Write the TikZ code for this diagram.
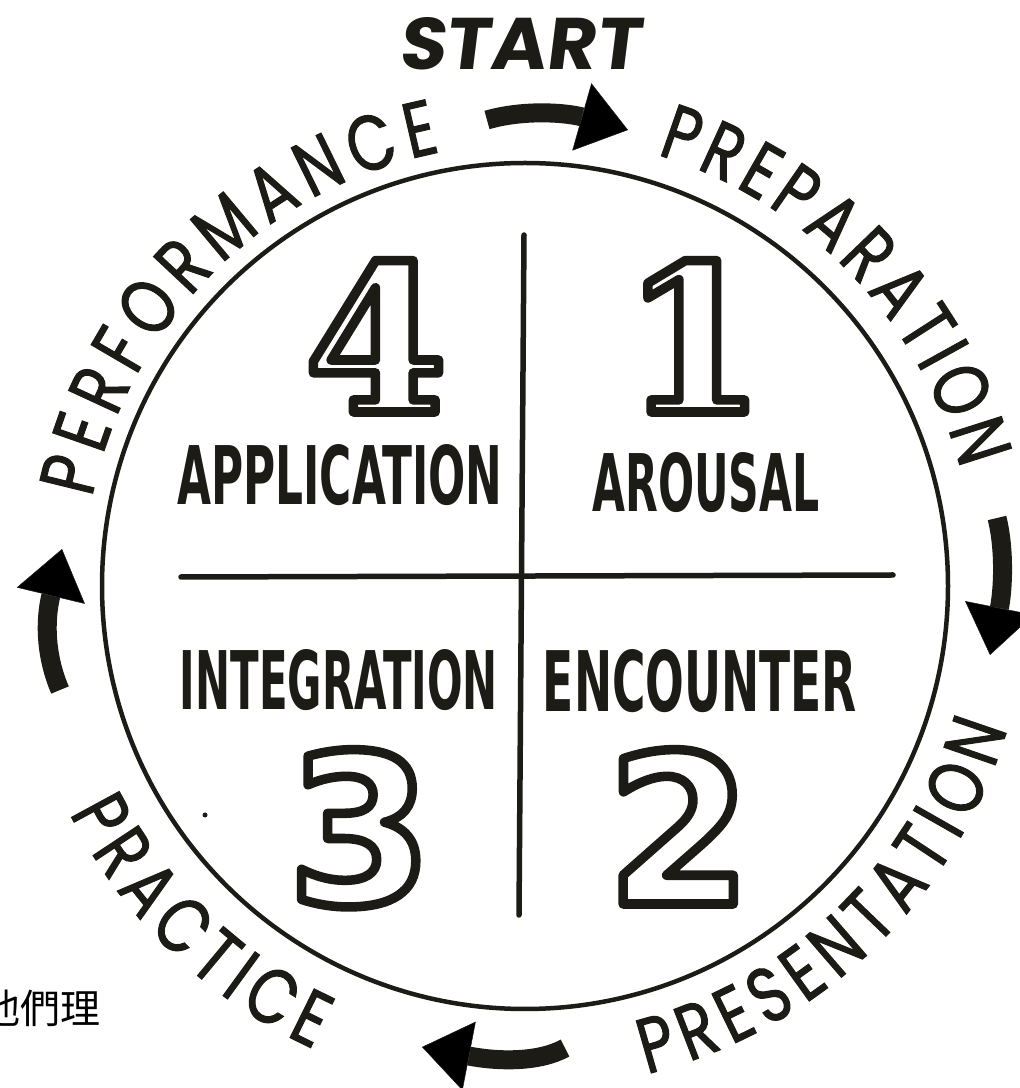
\documentclass[tikz,border=0pt]{standalone}
\usepackage{fontspec}
\usepackage{graphicx}
\usetikzlibrary{arrows.meta,decorations.text}
\newfontfamily\outerfam{Poppins}[FakeStretch=0.78,FakeBold=1.3]
\newfontfamily\startfam{Poppins}[FakeSlant=0.12]
\newfontfamily\labfam{DejaVu Sans Condensed}
\newfontfamily\serifnum{DejaVu Serif}
\newfontfamily\sansnum{DejaVu Sans}
\newfontfamily\cjkfont{Noto Sans CJK TC}
\definecolor{ink}{RGB}{28,27,22}
\newcommand\outerfont{\outerfam\fontsize{78pt}{78pt}\selectfont}
% outlined glyphs: white fill, ink stroke (PDF text render mode 2)
\newcommand\outl[2]{{\color{white}\special{pdf:literal direct 0.110 0.106 0.086 RG #1 w 1 j 2 Tr}#2\special{pdf:literal direct 0 Tr}}}
\tikzset{
  inkline/.style={draw=ink, line width=4.5pt, line cap=round},
  crossline/.style={draw=ink, line width=5.5pt, line cap=round},
  fatarrow/.style={draw=ink, line width=19pt, -{Triangle[length=48pt,width=70pt,line width=0.5pt]}},
  numnode/.style={inner sep=0pt, anchor=base, text=ink},
  labnode/.style={inner sep=0pt, anchor=base, text=ink},
  arctext/.style={decorate, decoration={text along path, text align=fit to path, text color=ink}},
}
\begin{document}
\begin{tikzpicture}[x=1pt,y=1pt]
\useasboundingbox (0,0) rectangle (1020,1088);
\clip (0,0) rectangle (1020,1088);
\fill[white] (0,0) rectangle (1020,1088);
\coordinate (c) at (525,502);
% circle and cross
\draw[inkline] (c) circle[radius=423];
\coordinate (vt) at (524,853);
\coordinate (vb) at (519,173);
\coordinate (hl) at (181,511);
\coordinate (hr) at (893,513);
\draw[crossline] (vt) -- (vb);
\draw[crossline] (hl) -- (hr);
% outlined numbers
\node[numnode, font=\serifnum\bfseries\fontsize{204pt}{204pt}\selectfont] (n4) at (376,676) {\outl{9.5}{4}};
\node[numnode, font=\serifnum\bfseries\fontsize{204pt}{204pt}\selectfont] (n1) at (694,676) {\outl{9.5}{1}};
\node[numnode, font=\sansnum\bfseries\fontsize{208pt}{208pt}\selectfont] (n3) at (360,184) {\outl{9.5}{3}};
\node[numnode, font=\sansnum\bfseries\fontsize{208pt}{208pt}\selectfont] (n2) at (679,184) {\outl{9.5}{2}};
% quadrant labels
\node[labnode] (lapp) at (340,583) {\resizebox{325pt}{60pt}{\labfam\bfseries APPLICATION}};
\node[labnode] (laro) at (706,576) {\resizebox{227pt}{59pt}{\labfam\bfseries AROUSAL}};
\node[labnode] (lint) at (339,378) {\resizebox{318pt}{60pt}{\labfam\bfseries INTEGRATION}};
\node[labnode] (lenc) at (700,376) {\resizebox{314pt}{62pt}{\labfam\bfseries ENCOUNTER}};
% start
\node[labnode] (start) at (519,1018) {\resizebox{242pt}{52pt}{\startfam\bfseries START}};
% outer arc texts
\path[arctext, decoration={text={|\outerfont|PERFORMANCE}}]
  ([shift={(168.5:442)}]c) arc[start angle=168.5, end angle=101, radius=442];
\path[arctext, decoration={text={|\outerfont|PREPARATION}}]
  ([shift={(73:451)}]c) arc[start angle=73, end angle=15, radius=451];
\path[arctext, decoration={text={|\outerfont|PRESENTATION}}]
  ([shift={(-76:503)}]c) arc[start angle=-76, end angle=-16.5, radius=503];
\path[arctext, decoration={text={|\outerfont|PRACTICE}}]
  ([shift={(206.5:509)}]c) arc[start angle=206.5, end angle=245.5, radius=509];
% arrows
\coordinate (a1s) at (487,968); \coordinate (a1e) at (628,958);
\draw[fatarrow] (a1s) .. controls (525,979) and (568,975) .. (a1e);
\coordinate (a2s) at (997,570); \coordinate (a2e) at (990,433);
\draw[fatarrow] (a2s) .. controls (1005,538) and (1003,498) .. (a2e);
\coordinate (a3s) at (565,40); \coordinate (a3e) at (422,41);
\draw[fatarrow] (a3s) .. controls (540,26) and (500,26) .. (a3e);
\coordinate (a4s) at (60,398); \coordinate (a4e) at (62,539);
\draw[fatarrow] (a4s) .. controls (45,433) and (45,468) .. (a4e);
% speck
\fill[ink] (205,273) circle[radius=2.5];
% chinese fragment
\node[anchor=base west, inner sep=0pt, font=\cjkfont\fontsize{40pt}{40pt}\selectfont, text=black] (zh) at (-20,64) {他們理};
\end{tikzpicture}
\end{document}
